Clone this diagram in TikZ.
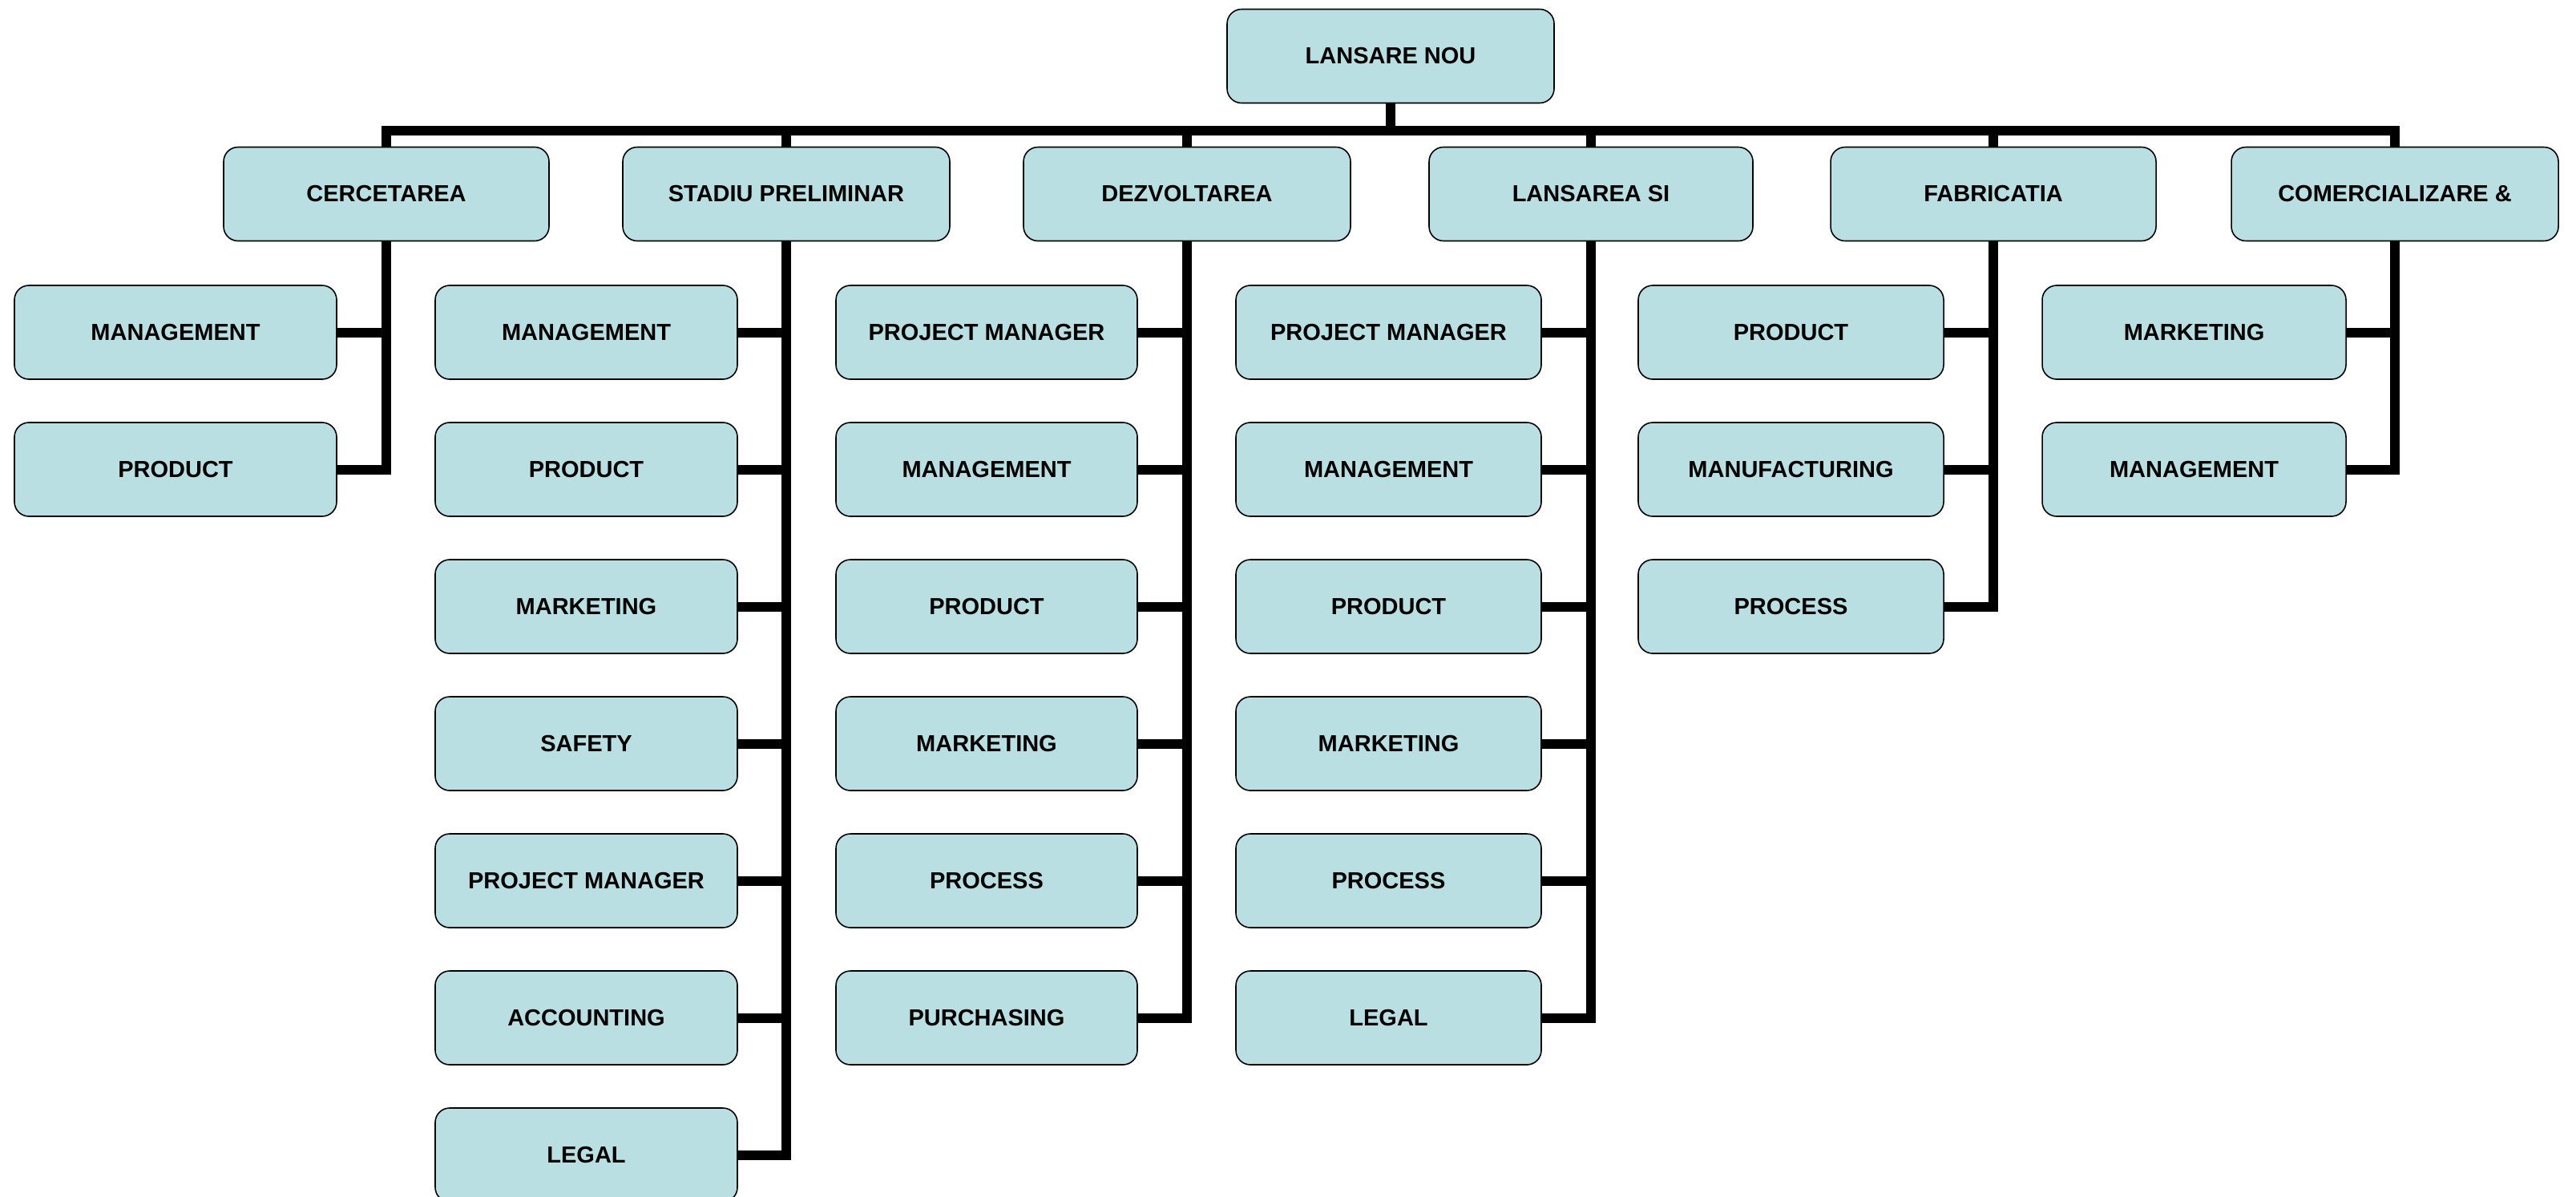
\documentclass[tikz,border=0pt]{standalone}
\usepackage{fontspec}
\setmainfont{Liberation Sans}
\usetikzlibrary{calc}
\definecolor{boxfill}{RGB}{186,223,227}
\tikzset{
  box/.style={draw=black, line width=0.45pt, fill=boxfill, rounded corners=0.18cm,
    minimum height=1.17cm, inner sep=0pt, font=\fontsize{8.25}{10}\selectfont\bfseries},
  conn/.style={line width=0.12cm, line join=miter, draw=black}
}
\begin{document}
\begin{tikzpicture}
\useasboundingbox (0,0) rectangle (32.14,-14.92);
% top
\node[box, minimum width=4.08cm] (top) at (17.35,-0.70) {LANSARE NOU};
% level 1
\node[box, minimum width=4.06cm] (A) at (4.82,-2.42) {CERCETAREA};
\node[box, minimum width=4.08cm] (B) at (9.81,-2.42) {STADIU PRELIMINAR};
\node[box, minimum width=4.08cm] (C) at (14.81,-2.42) {DEZVOLTAREA};
\node[box, minimum width=4.04cm] (D) at (19.85,-2.42) {LANSAREA SI};
\node[box, minimum width=4.06cm] (E) at (24.87,-2.42) {FABRICATIA};
\node[box, minimum width=4.08cm] (F) at (29.88,-2.42) {COMERCIALIZARE \&};
% children
\foreach \t [count=\i] in {MANAGEMENT,PRODUCT}
  \node[box, minimum width=4.02cm] (a\i) at (2.19,{-4.145-1.71*(\i-1)}) {\t};
\foreach \t [count=\i] in {MANAGEMENT,PRODUCT,MARKETING,SAFETY,PROJECT MANAGER,ACCOUNTING,LEGAL}
  \node[box, minimum width=3.77cm] (b\i) at (7.315,{-4.145-1.71*(\i-1)}) {\t};
\foreach \t [count=\i] in {PROJECT MANAGER,MANAGEMENT,PRODUCT,MARKETING,PROCESS,PURCHASING}
  \node[box, minimum width=3.76cm] (c\i) at (12.31,{-4.145-1.71*(\i-1)}) {\t};
\foreach \t [count=\i] in {PROJECT MANAGER,MANAGEMENT,PRODUCT,MARKETING,PROCESS,LEGAL}
  \node[box, minimum width=3.81cm] (d\i) at (17.325,{-4.145-1.71*(\i-1)}) {\t};
\foreach \t [count=\i] in {PRODUCT,MANUFACTURING,PROCESS}
  \node[box, minimum width=3.81cm] (e\i) at (22.345,{-4.145-1.71*(\i-1)}) {\t};
\foreach \t [count=\i] in {MARKETING,MANAGEMENT}
  \node[box, minimum width=3.79cm] (f\i) at (27.375,{-4.145-1.71*(\i-1)}) {\t};
% bus
\coordinate (bus) at ($(top.south)+(0,-0.34)$);
\draw[conn] (top.south) -- (bus);
\draw[conn] (A.north) |- (bus) -| (F.north);
\foreach \p in {B,C,D,E}
  \draw[conn] (\p.north) -- (\p.north |- bus);
% branches
\draw[conn] (a1.east) -- (a1.east -| A.south);
\draw[conn] (A.south) |- (a2.east);
\foreach \i in {1,...,6}
  \draw[conn] (b\i.east) -- (b\i.east -| B.south);
\draw[conn] (B.south) |- (b7.east);
\foreach \i in {1,...,5}
  \draw[conn] (c\i.east) -- (c\i.east -| C.south);
\draw[conn] (C.south) |- (c6.east);
\foreach \i in {1,...,5}
  \draw[conn] (d\i.east) -- (d\i.east -| D.south);
\draw[conn] (D.south) |- (d6.east);
\foreach \i in {1,2}
  \draw[conn] (e\i.east) -- (e\i.east -| E.south);
\draw[conn] (E.south) |- (e3.east);
\draw[conn] (f1.east) -- (f1.east -| F.south);
\draw[conn] (F.south) |- (f2.east);
\end{tikzpicture}
\end{document}
